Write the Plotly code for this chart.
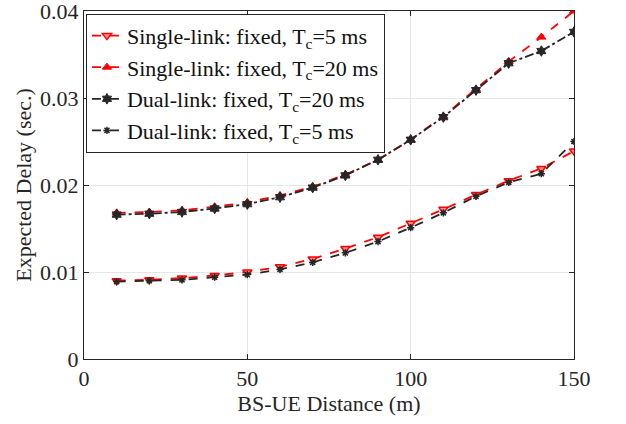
import plotly.graph_objects as go

distance = [10, 20, 30, 40, 50, 60, 70, 80, 90, 100, 110, 120, 130, 140, 150]
single_5 = [0.0090, 0.0091, 0.0093, 0.0096, 0.0100, 0.0106, 0.0115, 0.0127, 0.0140, 0.0156, 0.0172, 0.0189, 0.0205, 0.0219, 0.0239]
single_20 = [0.0168, 0.0169, 0.0171, 0.0175, 0.0180, 0.0188, 0.0198, 0.0212, 0.0229, 0.0252, 0.0279, 0.0310, 0.0342, 0.0370, 0.0400]
dual_20 = [0.0166, 0.0167, 0.0169, 0.0173, 0.0178, 0.0186, 0.0197, 0.0211, 0.0229, 0.0252, 0.0278, 0.0309, 0.0340, 0.0354, 0.0376]
dual_5 = [0.0089, 0.0090, 0.0091, 0.0094, 0.0097, 0.0103, 0.0111, 0.0122, 0.0135, 0.0151, 0.0168, 0.0187, 0.0203, 0.0213, 0.0250]

names = ["Single-link: fixed, T<sub>c</sub>=5 ms",
         "Single-link: fixed, T<sub>c</sub>=20 ms",
         "Dual-link: fixed, T<sub>c</sub>=20 ms",
         "Dual-link: fixed, T<sub>c</sub>=5 ms"]

RED = "#ff0000"
BLK = "#262626"
fig = go.Figure()
fig.add_trace(go.Scatter(x=distance, y=single_5, name=names[0], mode="lines+markers",
                         line=dict(color=RED, width=1.8, dash="dash"),
                         marker=dict(symbol="triangle-down", size=8, color="rgba(255,140,140,1)",
                                     line=dict(color=RED, width=1.5))))
fig.add_trace(go.Scatter(x=distance, y=single_20, name=names[1], mode="lines+markers",
                         line=dict(color=RED, width=1.8, dash="dash"),
                         marker=dict(symbol="triangle-up", size=8, color=RED,
                                     line=dict(color=RED, width=1))))
fig.add_trace(go.Scatter(x=distance, y=dual_20, name=names[2], mode="lines+markers",
                         line=dict(color=BLK, width=1.8, dash="dashdot"),
                         marker=dict(symbol="hexagram", size=8, color=BLK,
                                     line=dict(color=BLK, width=1))))
fig.add_trace(go.Scatter(x=distance, y=dual_5, name=names[3], mode="lines+markers",
                         line=dict(color=BLK, width=1.8, dash="dash"),
                         marker=dict(symbol="asterisk", size=6,
                                     line=dict(color=BLK, width=1.5))))

axis_common = dict(showline=True, linecolor="#262626", linewidth=1, mirror="allticks",
                   ticks="inside", ticklen=5, tickcolor="#262626",
                   showgrid=True, gridcolor="#e6e6e6", gridwidth=1, zeroline=False,
                   automargin=False, ticklabeloverflow="allow",
                   tickfont=dict(family="Liberation Serif", size=22, color="#262626"))

fig.update_layout(
    width=626, height=424,
    margin=dict(l=84, r=52, t=11, b=65),
    paper_bgcolor="white", plot_bgcolor="white",
    font=dict(family="Liberation Serif", size=22, color="#262626"),
    xaxis=dict(range=[0, 150], tickvals=[0, 50, 100, 150],
               title=dict(text="BS-UE Distance (m)", font=dict(size=22), standoff=4), **axis_common),
    yaxis=dict(range=[0, 0.04], tickvals=[0, 0.01, 0.02, 0.03, 0.04],
               ticktext=["0", "0.01", "0.02", "0.03", "0.04"],
               title=dict(text="Expected Delay (sec.)", font=dict(size=22), standoff=2), **axis_common),
    legend=dict(x=0.004, y=0.992, xanchor="left", yanchor="top",
                bgcolor="white", bordercolor="#262626", borderwidth=1,
                font=dict(family="Liberation Serif", size=22, color="#111111"),
                tracegroupgap=0, itemwidth=30),
    showlegend=True,
)

fig.write_html("out.html")
